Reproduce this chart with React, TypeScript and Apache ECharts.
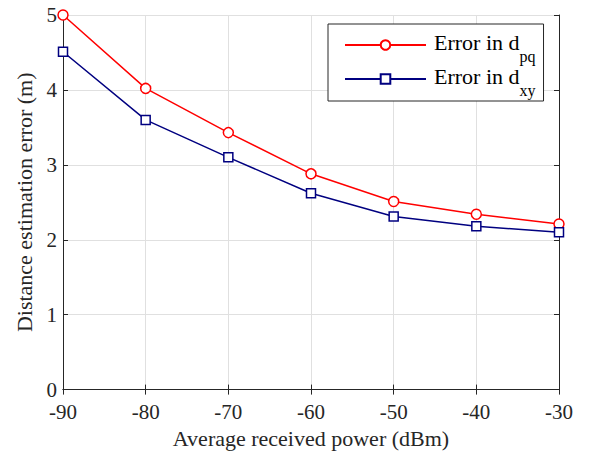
import React, { useEffect, useRef } from "react";
import * as echarts from "echarts";

const powers = [-90, -80, -70, -60, -50, -40, -30];
const errPq = [5.0, 4.02, 3.43, 2.88, 2.51, 2.34, 2.21];
const errXy = [4.51, 3.6, 3.1, 2.62, 2.31, 2.18, 2.1];
const seriesNames = ["Error in d_pq", "Error in d_xy"];

const FONT = "Liberation Serif";

export default function App() {
  const ref = useRef<HTMLDivElement>(null);
  useEffect(() => {
    const chart = echarts.init(ref.current!, null, { renderer: "svg" });
    const axisLine = { show: true, lineStyle: { color: "#262626", width: 1 } };
    const tick = { show: true, inside: true, length: 5, lineStyle: { color: "#262626" } };
    chart.setOption({
      animation: false,
      backgroundColor: "#ffffff",
      textStyle: { fontFamily: FONT },
      grid: { left: 63, right: 31, top: 15, bottom: 61, containLabel: false },
      legend: {
        orient: "vertical",
        left: 328,
        top: 24,
        padding: [2, 8, 3, 16],
        itemGap: -4,
        itemWidth: 81,
        itemHeight: 12,
        borderColor: "#262626",
        borderWidth: 1,
        borderRadius: 0,
        backgroundColor: "#ffffff",
        data: seriesNames,
        formatter: (name: string) => {
          const [base, sub] = name.split("_");
          return `{a|${base}}{s|${sub}}`;
        },
        textStyle: {
          fontFamily: FONT,
          color: "#000",
          rich: {
            a: { fontFamily: FONT, fontSize: 22, lineHeight: 22, color: "#000", padding: [0, 0, 5, 3] },
            s: { fontFamily: FONT, fontSize: 16, lineHeight: 16, color: "#000", padding: [22, 0, 0, 0] },
          },
        },
      },
      xAxis: [
        {
          type: "value",
          min: -90,
          max: -30,
          interval: 10,
          name: "Average received power (dBm)",
          nameLocation: "middle",
          nameGap: 36,
          nameTextStyle: { fontFamily: FONT, fontSize: 22, color: "#262626" },
          axisLine,
          axisTick: tick,
          axisLabel: { fontFamily: FONT, fontSize: 21, lineHeight: 18, color: "#262626", margin: 13 },
          splitLine: { show: true, lineStyle: { color: "#e0e0e0", width: 1 } },
        },
        {
          type: "value",
          position: "top",
          min: -90,
          max: -30,
          interval: 10,
          axisLine,
          axisTick: tick,
          axisLabel: { show: false },
          splitLine: { show: false },
        },
      ],
      yAxis: [
        {
          type: "value",
          min: 0,
          max: 5,
          interval: 1,
          name: "Distance estimation error (m)",
          nameLocation: "middle",
          nameGap: 23,
          nameTextStyle: { fontFamily: FONT, fontSize: 22, color: "#262626" },
          axisLine,
          axisTick: tick,
          axisLabel: { fontFamily: FONT, fontSize: 21, lineHeight: 16, color: "#262626", margin: 6 },
          splitLine: { show: true, lineStyle: { color: "#e0e0e0", width: 1 } },
        },
        {
          type: "value",
          position: "right",
          min: 0,
          max: 5,
          interval: 1,
          axisLine,
          axisTick: tick,
          axisLabel: { show: false },
          splitLine: { show: false },
        },
      ],
      series: [
        {
          name: seriesNames[0],
          type: "line",
          data: powers.map((p, i) => [p, errPq[i]]),
          symbol: "circle",
          symbolSize: 10,
          lineStyle: { color: "#ff0000", width: 1.5 },
          itemStyle: { color: "#ffffff", borderColor: "#ff0000", borderWidth: 1.5 },
          z: 3,
        },
        {
          name: seriesNames[1],
          type: "line",
          data: powers.map((p, i) => [p, errXy[i]]),
          symbol: "rect",
          symbolSize: 9,
          lineStyle: { color: "#000080", width: 1.5 },
          itemStyle: { color: "#ffffff", borderColor: "#000080", borderWidth: 1.5 },
          z: 4,
        },
      ],
    });
    return () => chart.dispose();
  }, []);
  return <div ref={ref} style={{ width: 590, height: 454, position: "absolute", left: 0, top: 0 }} />;
}
